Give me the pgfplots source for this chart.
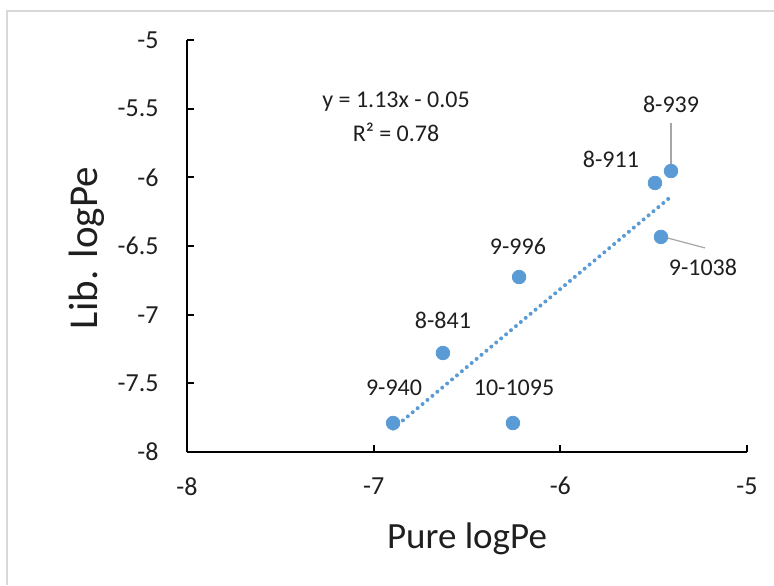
\documentclass[border=0pt]{standalone}
\usepackage{fontspec}
\setmainfont{Carlito}
\usepackage{pgfplots}
\pgfplotsset{compat=1.18}
\definecolor{xlBlue}{HTML}{5B9BD5}
\definecolor{xlText}{HTML}{1F1F1F}
\definecolor{xlFrame}{HTML}{D9D9D9}
\definecolor{xlLeader}{HTML}{A6A6A6}

\pgfplotstableread{
x       y
-6.896  -7.789
-6.254  -7.789
-6.629  -7.279
-6.221  -6.726
-5.493  -6.041
-5.407  -5.954
-5.461  -6.434
}\pts

\begin{document}
\begin{tikzpicture}
% page frame, 774x585 px at 0.5pt per px
\path[use as bounding box] (0,0) rectangle (387pt,292.5pt);
\draw[xlFrame, line width=1pt] (3.5pt,0) -- (3.5pt,287pt) -- (387pt,287pt);

\begin{axis}[
  at={(93.5pt,66.5pt)}, anchor=south west,
  scale only axis, width=280pt, height=206pt,
  xmin=-8, xmax=-5, ymin=-8, ymax=-5,
  xtick={-8,-7,-6,-5}, ytick={-8,-7.5,...,-5},
  axis lines=left, axis line style={-, black, line width=1.3pt},
  tick align=inside, major tick length=3.5pt,
  tick style={black, line width=1pt},
  /pgf/number format/assume math mode=true,
  /pgf/number format/fixed,
  ticklabel style={font=\fontsize{13}{15}\selectfont, text=xlText, inner sep=0pt},
  xticklabel style={anchor=north, yshift=-12.5pt},
  yticklabel style={anchor=east, xshift=-14pt},
  xlabel={Pure logPe},
  ylabel={Lib. logPe},
  xlabel style={font=\fontsize{18.5}{22}\selectfont, text=xlText,
    at={(axis description cs:0.5,-0.2354)}, anchor=base, inner sep=0pt},
  ylabel style={font=\fontsize{20.5}{24}\selectfont, text=xlText,
    at={(axis description cs:-0.1607,0.495)}, anchor=base, rotate=0, inner sep=0pt},
  clip=false,
]
% linear trendline over the data range
\addplot[xlBlue, line width=2pt, dash pattern=on 0pt off 3.2pt, line cap=round]
  coordinates {(-6.896,-7.830) (-5.407,-6.140)};
\addplot[only marks, mark=*, mark size=3.4pt, color=xlBlue] table[x=x,y=y] {\pts};

% leader lines
\draw[xlLeader, line width=0.6pt] (axis cs:-5.407,-5.605) -- (axis cs:-5.407,-5.915);
\draw[xlLeader, line width=0.6pt] (axis cs:-5.430,-6.440) -- (axis cs:-5.225,-6.514);

% data labels
\begin{scope}[every node/.style={font=\fontsize{12}{14}\selectfont, text=xlText, inner sep=0pt}]
\node at (axis cs:-5.407,-5.466) {8-939};
\node at (axis cs:-5.729,-5.866) {8-911};
\node at (axis cs:-5.236,-6.653) {9-1038};
\node at (axis cs:-6.227,-6.500) {9-996};
\node at (axis cs:-6.629,-7.039) {8-841};
\node at (axis cs:-6.891,-7.534) {9-940};
\node at (axis cs:-6.248,-7.534) {10-1095};
\node at (axis cs:-6.880,-5.451) {y = 1.13x - 0.05};
\node at (axis cs:-6.880,-5.670) {R² = 0.78};
\end{scope}
\end{axis}
\end{tikzpicture}
\end{document}
